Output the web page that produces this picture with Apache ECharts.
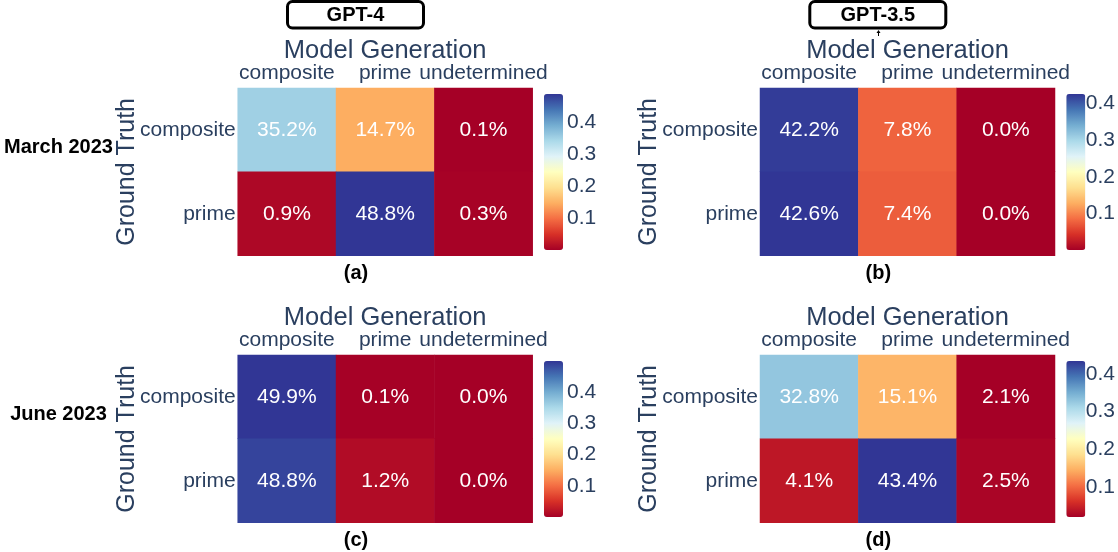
<!DOCTYPE html>
<html>
<head>
<meta charset="utf-8">
<script src="https://cdn.jsdelivr.net/npm/echarts@6/dist/echarts.min.js"></script>
<style>
  html, body { margin: 0; padding: 0; background: #fff; }
  #chart { width: 1118px; height: 552px; }
</style>
</head>
<body>
<div id="chart"></div>
<script>
// ---- data ----
const xCategories = ['composite', 'prime', 'undetermined'];
const yCategories = ['composite', 'prime'];
const gpt4March = [[0.352, 0.147, 0.001], [0.009, 0.488, 0.003]];
const gpt35March = [[0.422, 0.078, 0.000], [0.426, 0.074, 0.000]];
const gpt4June = [[0.499, 0.001, 0.000], [0.488, 0.012, 0.000]];
const gpt35June = [[0.328, 0.151, 0.021], [0.041, 0.434, 0.025]];
const colorbarTicks = [0.1, 0.2, 0.3, 0.4];
const panelLabels = ['(a)', '(b)', '(c)', '(d)'];
const modelNames = ['GPT-4', 'GPT-3.5'];
const monthNames = ['March 2023', 'June 2023'];
const xTitle = 'Model Generation';
const yTitle = 'Ground Truth';

// ---- styles ----
const FONT = "'Liberation Sans', Arial, Helvetica, sans-serif";
const TXT = '#2a3f5f';
const RDYLBU = ['rgb(165,0,38)', 'rgb(215,48,39)', 'rgb(244,109,67)', 'rgb(253,174,97)',
  'rgb(254,224,144)', 'rgb(255,255,191)', 'rgb(224,243,248)', 'rgb(171,217,233)',
  'rgb(116,173,209)', 'rgb(69,117,180)', 'rgb(49,54,149)'];

const panels = [gpt4March, gpt35March, gpt4June, gpt35June];
const COLX = 522.3, ROWY = 267;

const grid = [], xAxis = [], yAxis = [], series = [], visualMap = [], graphic = [];

panels.forEach((m, i) => {
  const col = i % 2, row = Math.floor(i / 2);
  const flat = m.flat();
  const vmin = Math.min(...flat), vmax = Math.max(...flat);
  // heatmap grid
  grid.push({ left: 237.7 + col * COLX, top: 88 + row * ROWY, width: 295, height: 167.7 });
  xAxis.push({
    gridIndex: 2 * i, type: 'category', data: xCategories, position: 'top',
    axisLine: { show: false }, axisTick: { show: false }, splitLine: { show: false },
    axisLabel: { fontSize: 21, color: TXT, fontFamily: FONT, margin: 4, interval: 0 },
    name: xTitle, nameLocation: 'middle', nameGap: 24, nameMoveOverlap: false,
    nameTextStyle: { fontSize: 25.5, color: TXT, fontFamily: FONT }
  });
  yAxis.push({
    gridIndex: 2 * i, type: 'category', data: yCategories, inverse: true,
    axisLine: { show: false }, axisTick: { show: false }, splitLine: { show: false },
    axisLabel: { fontSize: 21, color: TXT, fontFamily: FONT, margin: 2 },
    name: yTitle, nameLocation: 'middle', nameGap: 98, nameMoveOverlap: false,
    nameTextStyle: { fontSize: 25, color: TXT, fontFamily: FONT }
  });
  const data = [];
  m.forEach((r, yi) => r.forEach((v, xi) => data.push([xi, yi, v])));
  series.push({
    type: 'heatmap', xAxisIndex: 2 * i, yAxisIndex: 2 * i, data: data,
    label: {
      show: true, color: '#fff', fontSize: 21, fontFamily: FONT,
      formatter: p => (p.value[2] * 100).toFixed(1) + '%'
    },
    itemStyle: { borderWidth: 0 },
    emphasis: { disabled: true }
  });
  // colorbar grid (for tick labels)
  grid.push({ left: 544 + col * COLX, top: 94 + row * ROWY, width: 19, height: 156 });
  xAxis.push({ gridIndex: 2 * i + 1, type: 'value', show: false });
  yAxis.push({
    gridIndex: 2 * i + 1, type: 'value', min: vmin, max: vmax, position: 'right',
    axisLine: { show: false }, axisTick: { show: false }, splitLine: { show: false },
    axisLabel: {
      customValues: colorbarTicks, formatter: v => Number(v).toFixed(1),
      fontSize: 21, color: TXT, fontFamily: FONT, margin: 4
    }
  });
  visualMap.push({
    type: 'continuous', seriesIndex: i, dimension: 2, min: vmin, max: vmax,
    calculable: false, hoverLink: false, realtime: false,
    left: 544 + col * COLX, top: 94 + row * ROWY, padding: 0,
    itemWidth: 19, itemHeight: 156, text: null, showLabel: false,
    inRange: { color: RDYLBU }
  });
  // panel letter
  graphic.push({
    type: 'text', x: 356 + col * COLX, y: 273 + row * ROWY,
    style: { text: panelLabels[i], font: 'bold 20px ' + FONT, fill: '#000',
      textAlign: 'center', textVerticalAlign: 'middle' }
  });
});

// model boxes
modelNames.forEach((n, c) => {
  const cx = 355.5 + c * COLX;
  graphic.push({
    type: 'rect', shape: { x: cx - 68, y: 1.5, width: 136, height: 26.5, r: 5 },
    style: { fill: '#fff', stroke: '#000', lineWidth: 3 }
  });
  graphic.push({
    type: 'text', x: cx, y: 15,
    style: { text: n, font: 'bold 20px ' + FONT, fill: '#000',
      textAlign: 'center', textVerticalAlign: 'middle' }
  });
});
// tiny annotation arrow below GPT-3.5 box
graphic.push({
  type: 'line', shape: { x1: 878.5, y1: 31, x2: 878.5, y2: 36 },
  style: { stroke: '#000', lineWidth: 1 }
});
graphic.push({
  type: 'polygon', shape: { points: [[876.5, 33], [880.5, 33], [878.5, 30]] },
  style: { fill: '#000' }
});
// month labels
monthNames.forEach((n, r) => {
  graphic.push({
    type: 'text', x: 58.5, y: 147 + r * ROWY,
    style: { text: n, font: 'bold 20px ' + FONT, fill: '#000',
      textAlign: 'center', textVerticalAlign: 'middle' }
  });
});

const chart = echarts.init(document.getElementById('chart'), null, { renderer: 'canvas' });
chart.setOption({
  animation: false,
  backgroundColor: '#fff',
  grid, xAxis, yAxis, series, visualMap, graphic
});
</script>
</body>
</html>
